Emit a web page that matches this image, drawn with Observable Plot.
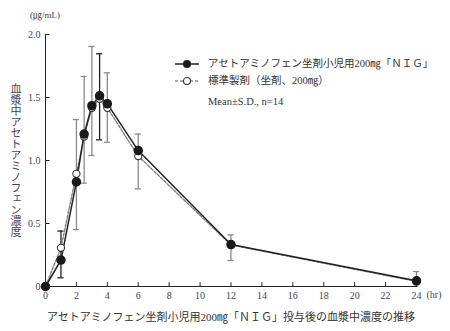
<!DOCTYPE html>
<html>
<head>
<meta charset="utf-8">
<script src="https://cdn.jsdelivr.net/npm/d3@7"></script>
<script src="https://cdn.jsdelivr.net/npm/@observablehq/plot@0.6"></script>
<style>
  html, body { margin: 0; padding: 0; background: #fff; }
  #wrap { position: relative; width: 450px; height: 331px; overflow: hidden;
          font-family: "Liberation Serif", "Noto Sans CJK JP", serif; color: #333; }
  #caption { position: absolute; left: 0; width: 462px; top: 308px; text-align: center;
             font-size: 11px; letter-spacing: 0px; white-space: nowrap; }
  #ylab { position: absolute; left: 9px; top: 83px; writing-mode: vertical-rl;
          font-size: 11px; line-height: 12px; color: #4a4256; letter-spacing: 0px; }
  #unit { position: absolute; left: 30px; top: 8px; font-size: 9px; color: #444; }
  #legend { position: absolute; left: 174px; top: 55px; font-size: 10.5px; line-height: 16px; }
  #legend .row { display: flex; align-items: center; height: 17px; white-space: nowrap; }
  #legend svg { margin-right: 8px; }
</style>
</head>
<body>
<div id="wrap">
  <div id="plot"></div>
  <div id="unit">(㎍/mL)</div>
  <div id="ylab">血漿中アセトアミノフェン濃度</div>
  <div id="legend"></div>
  <div id="caption"></div>
</div>
<script>
// ---- data ----
const times = [0, 1, 2, 2.5, 3, 3.5, 4, 6, 12, 24];
const testValues = [0, 0.21, 0.83, 1.21, 1.435, 1.513, 1.45, 1.079, 0.333, 0.045];
const refValues  = [0, 0.307, 0.894, 1.19, 1.418, 1.49, 1.418, 1.035, 0.33, 0.04];
const errTimes = [1, 2, 2.5, 3, 3.5, 4, 6, 12, 24];
const errLow   = [0.069, 0.452, 0.82, 1.04, 1.164, 1.145, 0.775, 0.206, 0.0];
const errHigh  = [0.44, 1.325, 1.667, 1.905, 1.847, 1.696, 1.21, 0.41, 0.119];
const errSeries = ["test", "ref", "ref", "ref", "test", "ref", "ref", "ref", "ref"];
const xTicks = [0, 2, 4, 6, 8, 10, 12, 14, 16, 18, 20, 22, 24];
const yTicks = [0, 0.5, 1.0, 1.5, 2.0];
const testName = "アセトアミノフェン坐剤小児用200㎎「ＮＩＧ」";
const refName = "標準製剤（坐剤、200㎎）";
const statNote = "Mean±S.D., n=14";
const captionText = "アセトアミノフェン坐剤小児用200㎎「ＮＩＧ」投与後の血漿中濃度の推移";

// ---- tables ----
const test = times.map((t, i) => ({t, v: testValues[i]}));
const ref = times.map((t, i) => ({t, v: refValues[i]}));
const errs = errTimes.map((t, i) => ({t, lo: errLow[i], hi: errHigh[i], s: errSeries[i]}));
const errColor = s => s === "test" ? "#222" : "#8a8a8a";

const chart = Plot.plot({
  width: 450,
  height: 305,
  marginLeft: 45,
  marginRight: 34,
  marginTop: 34,
  marginBottom: 19,
  style: {fontFamily: "'Liberation Serif', 'Noto Sans CJK JP', serif", fontSize: "10px", color: "#445"},
  x: {domain: [0, 24]},
  y: {domain: [0, 2]},
  marks: [
    Plot.axisX({ticks: xTicks, tickSize: 0, tickPadding: 5, label: null, tickFormat: d => String(d)}),
    Plot.axisY({ticks: yTicks, tickSize: 0, tickPadding: 5, label: null,
                tickFormat: d => d === 0 ? "0" : d.toFixed(1)}),
    Plot.text(["(hr)"], {frameAnchor: "bottom-right", dx: 10, dy: 11, textAnchor: "start", fill: "#445", fontSize: 10}),
    Plot.ruleX(xTicks, {x: d => d, y1: 0, y2: 0.03, stroke: "#222"}),
    Plot.ruleY(yTicks, {y: d => d, x1: 0, x2: 0.3, stroke: "#222"}),
    Plot.ruleY([0], {x1: 0, x2: 24.1, stroke: "#222"}),
    Plot.ruleX([0], {y1: 0, y2: 2, stroke: "#222"}),
    // error bars
    Plot.ruleX(errs, {x: "t", y1: "lo", y2: "hi", stroke: d => errColor(d.s), strokeWidth: 1.3}),
    Plot.ruleY(errs.filter(d => d.lo > 0.01), {y: "lo", x1: d => d.t - 0.2, x2: d => d.t + 0.2, stroke: d => errColor(d.s), strokeWidth: 1.3}),
    Plot.ruleY(errs, {y: "hi", x1: d => d.t - 0.2, x2: d => d.t + 0.2, stroke: d => errColor(d.s), strokeWidth: 1.3}),
    // lines
    Plot.line(ref, {x: "t", y: "v", stroke: "#7a7a7a", strokeWidth: 1.3, strokeDasharray: "3,1.5"}),
    Plot.line(test, {x: "t", y: "v", stroke: "#222", strokeWidth: 1.5}),
    // markers
    Plot.dot(ref, {x: "t", y: "v", r: 3.6, fill: "#fff", stroke: "#333", strokeWidth: 1.1}),
    Plot.dot(test, {x: "t", y: "v", r: 4, fill: "#1a1a1a", stroke: "#1a1a1a"})
  ]
});
document.getElementById("plot").appendChild(chart);

// legend
const legend = document.getElementById("legend");
function row(svg, text) {
  const r = document.createElement("div");
  r.className = "row";
  r.innerHTML = svg + "<span>" + text + "</span>";
  legend.appendChild(r);
}
row('<svg width="26" height="10"><line x1="1" y1="5" x2="25" y2="5" stroke="#222" stroke-width="1.5"/><circle cx="13" cy="5" r="4" fill="#1a1a1a"/></svg>', testName);
row('<svg width="26" height="10"><line x1="1" y1="5" x2="25" y2="5" stroke="#555" stroke-width="1.2" stroke-dasharray="3,2"/><circle cx="13" cy="5" r="3.5" fill="#fff" stroke="#333" stroke-width="1.1"/></svg>', refName);
const r3 = document.createElement("div");
r3.className = "row";
r3.style.paddingLeft = "34px";
r3.style.marginTop = "4px";
r3.textContent = statNote;
legend.appendChild(r3);

document.getElementById("caption").textContent = captionText;
</script>
</body>
</html>
